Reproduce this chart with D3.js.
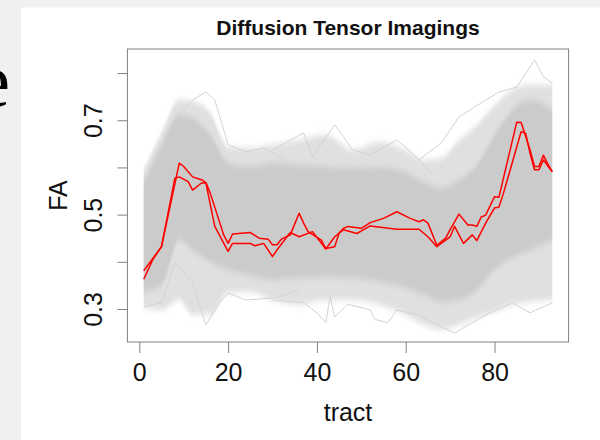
<!DOCTYPE html>
<html>
<head>
<meta charset="utf-8">
<script src="https://cdn.jsdelivr.net/npm/d3@7"></script>
<style>
  body { margin: 0; background: #f0f0f0; }
  svg { display: block; }
</style>
</head>
<body>
<div class="canvas"></div>
<script>
// ---- data ----
const xTicks = [0, 20, 40, 60, 80];
const yTicks = [0.3, 0.4, 0.5, 0.6, 0.7, 0.8];
const yLabels = [0.3, 0.5, 0.7];

// envelope of the grey curves (sparse outer band and dense core)
const envTracts   = [1, 5, 9, 12, 16, 20, 25, 30, 36, 42, 48, 54, 60, 64, 68, 72, 76, 80, 84, 88, 93];
const outerTop    = [0.595, 0.673, 0.743, 0.740, 0.715, 0.644, 0.641, 0.648, 0.658, 0.669, 0.637, 0.654, 0.637, 0.616, 0.620, 0.658, 0.690, 0.732, 0.764, 0.775, 0.775];
const coreTop     = [0.569, 0.648, 0.711, 0.705, 0.669, 0.610, 0.601, 0.610, 0.605, 0.601, 0.599, 0.601, 0.590, 0.569, 0.557, 0.573, 0.605, 0.669, 0.722, 0.743, 0.722];
const coreBottom  = [0.336, 0.351, 0.446, 0.425, 0.400, 0.383, 0.372, 0.362, 0.366, 0.368, 0.366, 0.357, 0.345, 0.330, 0.315, 0.319, 0.340, 0.383, 0.409, 0.425, 0.446];
const outerBottom = [0.302, 0.298, 0.319, 0.288, 0.288, 0.334, 0.336, 0.319, 0.309, 0.319, 0.319, 0.309, 0.288, 0.267, 0.256, 0.267, 0.281, 0.294, 0.309, 0.315, 0.319];

// stray grey curves outside the band  [tract, FA]
const strayTopLeft = [[3, 0.595], [7, 0.690], [12, 0.743], [15, 0.760], [17, 0.743], [20, 0.648], [24, 0.633], [28, 0.641], [33, 0.616]];
const strayBottomLeft = [[1, 0.305], [5, 0.313], [8, 0.398], [12, 0.355], [15, 0.266], [18, 0.313], [20, 0.334], [24, 0.319], [31, 0.324], [36, 0.340]];
const strayTopMid = [[30, 0.637], [37, 0.673], [39, 0.622], [44, 0.690], [46, 0.665], [48, 0.637], [52, 0.627], [58, 0.658], [60, 0.643], [63, 0.616], [66, 0.584]];
const strayBottomMid = [[30, 0.319], [37, 0.313], [40, 0.292], [42, 0.271], [43, 0.326], [44, 0.283], [47, 0.310], [52, 0.298], [53, 0.278], [56, 0.271], [58, 0.298], [62, 0.288]];
const strayTopRight = [[63, 0.616], [68, 0.652], [72, 0.707], [77, 0.737], [81, 0.760], [85, 0.770], [89, 0.828], [91, 0.792], [93, 0.779]];
const strayBottomRight = [[62, 0.292], [68, 0.262], [71, 0.249], [75, 0.271], [79, 0.292], [84, 0.313], [88, 0.292], [93, 0.313]];

// the two highlighted (red) curves
const redTractsA = [1, 3, 5, 9, 10, 12, 14, 15, 16, 19, 20, 21, 25, 27, 29, 30, 31, 32, 34, 36, 37, 38, 41, 42, 44, 45, 46, 47, 50, 52, 55, 58, 61, 63, 64, 65, 67, 69, 70, 72, 74, 75, 76, 77, 78, 80, 81, 85, 86, 88, 89, 90, 91, 92, 93];
const redFA_A    = [0.363, 0.404, 0.432, 0.609, 0.602, 0.580, 0.574, 0.568, 0.545, 0.457, 0.439, 0.459, 0.462, 0.450, 0.448, 0.436, 0.436, 0.448, 0.457, 0.503, 0.482, 0.464, 0.446, 0.428, 0.432, 0.461, 0.471, 0.475, 0.471, 0.483, 0.492, 0.506, 0.492, 0.485, 0.489, 0.482, 0.435, 0.450, 0.468, 0.501, 0.478, 0.478, 0.475, 0.495, 0.499, 0.538, 0.537, 0.696, 0.695, 0.637, 0.602, 0.602, 0.626, 0.607, 0.591];
const redTractsB = [1, 5, 8, 9, 11, 12, 14, 15, 17, 20, 21, 25, 26, 28, 30, 31, 33, 34, 36, 39, 42, 44, 46, 49, 52, 58, 63, 65, 67, 70, 71, 73, 75, 76, 78, 80, 81, 82, 86, 87, 88, 89, 90, 91, 92, 93];
const redFA_B    = [0.381, 0.432, 0.577, 0.580, 0.570, 0.552, 0.567, 0.567, 0.475, 0.422, 0.439, 0.439, 0.434, 0.439, 0.411, 0.425, 0.450, 0.462, 0.453, 0.464, 0.427, 0.453, 0.468, 0.460, 0.476, 0.469, 0.469, 0.453, 0.432, 0.453, 0.475, 0.439, 0.457, 0.445, 0.482, 0.514, 0.516, 0.545, 0.676, 0.672, 0.630, 0.595, 0.595, 0.616, 0.603, 0.591];

// ---- drawing ----
const width = 600, height = 440;

const svg = d3.select('.canvas')
  .append('svg')
    .attr('width', width)
    .attr('height', height);

// slide background behind the plot image
svg.append('rect').attr('width', width).attr('height', height).attr('fill', '#f0f0f0');
svg.append('rect').attr('x', 21).attr('y', 7.5).attr('width', width - 21).attr('height', height - 7.5).attr('fill', '#fff');
svg.append('text')
  .attr('x', 10).attr('y', 106)
  .attr('text-anchor', 'end')
  .attr('font-family', 'Liberation Serif, serif')
  .attr('font-size', 76)
  .attr('fill', '#000')
  .text('e');

const plot = {left: 127.4, right: 568.6, top: 49, bottom: 342};

const x = d3.scaleLinear()
  .domain([-2.68, 96.68])
  .range([plot.left, plot.right]);

const y = d3.scaleLinear()
  .domain([0.23, 0.851])
  .range([plot.bottom, plot.top]);

const defs = svg.append('defs');
defs.append('filter').attr('id', 'soft')
    .attr('x', '-5%').attr('y', '-20%').attr('width', '110%').attr('height', '140%')
  .append('feGaussianBlur').attr('stdDeviation', '0.4 3');
defs.append('clipPath').attr('id', 'clip')
  .append('rect')
    .attr('x', plot.left).attr('y', plot.top)
    .attr('width', plot.right - plot.left).attr('height', plot.bottom - plot.top);

const graph = svg.append('g').attr('clip-path', 'url(#clip)');

const band = (top, bottom) => d3.area()
  .x((d, i) => x(envTracts[i]))
  .y0((d, i) => y(bottom[i]))
  .y1((d, i) => y(top[i]))
  .curve(d3.curveMonotoneX)(envTracts);

graph.append('path')
  .attr('d', band(outerTop, outerBottom))
  .attr('fill', '#e0e0e0')
  .attr('filter', 'url(#soft)');

graph.append('path')
  .attr('d', band(coreTop, coreBottom))
  .attr('fill', '#cbcbcb')
  .attr('filter', 'url(#soft)');

const pairLine = d3.line()
  .x(d => x(d[0]))
  .y(d => y(d[1]));

const strays = [strayTopLeft, strayBottomLeft, strayTopMid, strayBottomMid, strayTopRight, strayBottomRight];
graph.selectAll('path.stray')
  .data(strays)
  .enter()
  .append('path')
    .attr('class', 'stray')
    .attr('d', pairLine)
    .attr('fill', 'none')
    .attr('stroke', '#d3d3d3')
    .attr('stroke-width', 1);

const redLine = (tracts, values) => d3.line()
  .x((d, i) => x(tracts[i]))
  .y((d, i) => y(values[i]))(values);

graph.selectAll('path.red')
  .data([[redTractsA, redFA_A], [redTractsB, redFA_B]])
  .enter()
  .append('path')
    .attr('class', 'red')
    .attr('d', d => redLine(d[0], d[1]))
    .attr('fill', 'none')
    .attr('stroke', '#ff0000')
    .attr('stroke-width', 1.5)
    .attr('stroke-linejoin', 'round');

// box
svg.append('rect')
  .attr('x', plot.left).attr('y', plot.top)
  .attr('width', plot.right - plot.left).attr('height', plot.bottom - plot.top)
  .attr('fill', 'none')
  .attr('stroke', '#808080')
  .attr('stroke-width', 1);

// axes
const font = 'Liberation Sans, Arial, Helvetica, sans-serif';

const xAxisGroup = svg.append('g').attr('transform', `translate(0, ${plot.bottom})`);
xAxisGroup.call(d3.axisBottom(x).tickValues(xTicks).tickSize(11).tickPadding(10));
xAxisGroup.select('.domain').remove();
xAxisGroup.selectAll('line').attr('stroke', '#808080');
xAxisGroup.selectAll('text')
  .attr('font-family', font).attr('font-size', 25).attr('fill', '#111');

const yAxisGroup = svg.append('g').attr('transform', `translate(${plot.left}, 0)`);
yAxisGroup.call(d3.axisLeft(y).tickValues(yTicks).tickSize(10)
  .tickFormat(d => yLabels.some(v => Math.abs(v - d) < 1e-9) ? d3.format('.1f')(d) : ''));
yAxisGroup.select('.domain').remove();
yAxisGroup.selectAll('line').attr('stroke', '#808080');
yAxisGroup.selectAll('text')
  .attr('transform', 'rotate(-90)')
  .attr('x', 0).attr('y', -25).attr('dy', 0)
  .attr('text-anchor', 'middle')
  .attr('font-family', font).attr('font-size', 25).attr('fill', '#111');

// titles
svg.append('text')
  .attr('x', 348).attr('y', 35)
  .attr('text-anchor', 'middle')
  .attr('font-family', font).attr('font-size', 21).attr('font-weight', 'bold')
  .attr('fill', '#111')
  .text('Diffusion Tensor Imagings');

svg.append('text')
  .attr('x', 348).attr('y', 421)
  .attr('text-anchor', 'middle')
  .attr('font-family', font).attr('font-size', 25)
  .attr('fill', '#111')
  .text('tract');

svg.append('text')
  .attr('transform', `translate(67, ${(plot.top + plot.bottom) / 2}) rotate(-90)`)
  .attr('text-anchor', 'middle')
  .attr('font-family', font).attr('font-size', 25)
  .attr('fill', '#111')
  .text('FA');
</script>
</body>
</html>
